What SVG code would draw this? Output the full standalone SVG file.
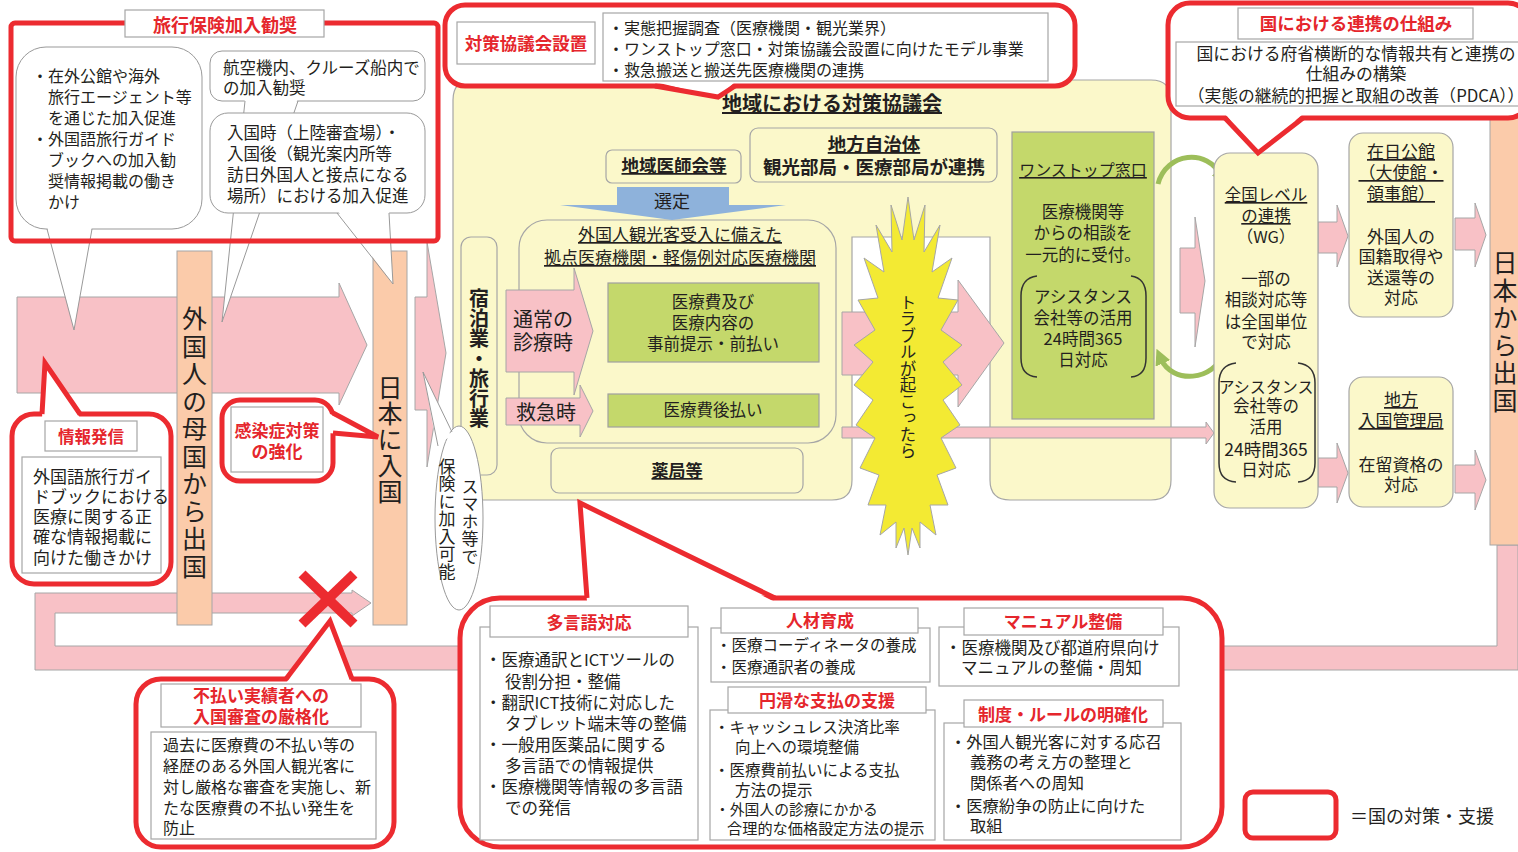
<svg xmlns="http://www.w3.org/2000/svg" width="1518" height="852" viewBox="0 0 1518 852">
<defs>
<style>
text{font-family:"Noto Sans CJK JP","Noto Sans",sans-serif;fill:#231F20;}
.rt{fill:#E5262C;font-weight:bold;}
.b{font-weight:bold;}
.u{text-decoration:underline;}
.c{text-anchor:middle;}
.v{writing-mode:vertical-rl;}
.pk{fill:#F8C1C6;stroke:#A6A6A6;stroke-width:1;}
.or{fill:#FBCBAA;stroke:#A6A6A6;stroke-width:1;}
.yl{fill:#FBF8CA;stroke:#A6A6A6;stroke-width:1.2;}
.gr{fill:#C4D86B;stroke:#A0A0A0;stroke-width:1.2;}
.rd{fill:#fff;stroke:#EC2B30;stroke-width:5;}
.rn{fill:none;stroke:#EC2B30;stroke-width:5;}
.rl{fill:none;stroke:#EC2B30;stroke-width:5;stroke-linejoin:miter;}
.wb{fill:#fff;stroke:#A6A6A6;stroke-width:1.2;}
.bu{fill:#fff;stroke:#999;stroke-width:1;}
.gl{fill:none;stroke:#999;stroke-width:1;}
.bk{fill:none;stroke:#333;stroke-width:1.5;}
.ga{fill:none;stroke:#9DBE5A;stroke-width:5;}
.f16{font-size:16px;}
.f17{font-size:17px;}
</style>
<marker id="gah" viewBox="0 0 10 10" refX="3" refY="5" markerWidth="3.2" markerHeight="3.2" orient="auto" markerUnits="strokeWidth">
<path d="M0,0 L10,5 L0,10 Z" fill="#9DBE5A"/>
</marker>
</defs>
<rect width="1518" height="852" fill="#fff"/>

<g id="connectors">
<path class="pk" d="M1497,545 H1518 V670 H35 V593 H352 V590 L371,603 L352,616 V613 H55 V646 H1497 Z"/>
<path class="pk" d="M17,297 H339 V283 L367,345 L339,405 V393 H17 Z"/>
<path class="pk" d="M415,297 H427 V242 L446,353 L427,467 V410 H415 Z"/>
</g>

<g id="bar-depart-home">
<rect class="or" x="177" y="251" width="35" height="374"/>
<text class="v" x="194.5" y="306" font-size="25" letter-spacing="2.5">外国人の母国から出国</text>
</g>
<g id="bar-enter-japan">
<rect class="or" x="373" y="251" width="34" height="374"/>
<text class="v" x="390" y="375" font-size="25" letter-spacing="1">日本に入国</text>
</g>
<g id="bar-leave-japan">
<rect class="or" x="1490" y="100" width="30" height="445"/>
<text class="v" x="1505" y="250" font-size="25" letter-spacing="2.5">日本から出国</text>
</g>

<g id="regional-council">
<path class="yl" d="M473,80 H1151 Q1171,80 1171,100 V480 Q1171,500 1151,500 H1010 Q990,500 990,480 V237 H852 V480 Q852,500 832,500 H473 Q453,500 453,480 V100 Q453,80 473,80 Z"/>
<text class="b u c" x="832" y="111" font-size="20">地域における対策協議会</text>
</g>

<g id="medical-assoc">
<rect class="yl" x="606" y="150" width="135" height="33" rx="6"/>
<text class="b u c" x="674" y="172" font-size="17.5">地域医師会等</text>
</g>
<g id="local-gov">
<rect class="yl" x="750" y="128" width="247" height="54" rx="8"/>
<text class="b u c" x="874" y="151" font-size="18.5">地方自治体</text>
<text class="b c" x="874" y="174" font-size="18.5">観光部局・医療部局が連携</text>
</g>

<g id="lodging">
<rect class="yl" x="461" y="237" width="36" height="238" rx="10"/>
<text class="v b" x="479" y="288" font-size="20">宿泊業・旅行業</text>
</g>

<g id="hospitals">
<rect class="yl" x="519" y="220" width="317" height="223" rx="28"/>
<text class="u c" x="680" y="241" font-size="17">外国人観光客受入に備えた</text>
<text class="u c" x="680" y="264" font-size="17">拠点医療機関・軽傷例対応医療機関</text>
<rect class="gr" x="608" y="283" width="211" height="79"/>
<text class="c" x="713" y="308" font-size="16.5">医療費及び</text>
<text class="c" x="713" y="329" font-size="16.5">医療内容の</text>
<text class="c" x="713" y="350" font-size="16.5">事前提示・前払い</text>
<rect class="gr" x="608" y="394" width="211" height="33"/>
<text class="c" x="713" y="416" font-size="16.5">医療費後払い</text>
<path class="pk" d="M506,290 H574 V268 L593,331 L574,395 V372 H506 Z"/>
<text x="513" y="327" font-size="20">通常の</text>
<text x="513" y="350" font-size="20">診療時</text>
<path class="pk" d="M506,398 H580 V385 L593,411 L580,437 V425 H506 Z"/>
<text x="516" y="420" font-size="20">救急時</text>
</g>

<g id="select-arrow">
<path d="M617,187 H729 V205 H786 L672,220 L560,205 H617 Z" fill="#8EB2DB"/>
<text class="c" x="672" y="208" font-size="18">選定</text>
</g>

<g id="pharmacy">
<rect class="yl" x="551" y="448" width="252" height="45" rx="8"/>
<text class="b u c" x="677" y="477" font-size="17">薬局等</text>
</g>

<g id="one-stop">
<rect class="gr" x="1012" y="132" width="142" height="287"/>
<text class="u c" x="1083" y="176" font-size="16">ワンストップ窓口</text>
<text class="c" x="1083" y="218" font-size="16.5">医療機関等</text>
<text class="c" x="1083" y="239" font-size="16.5">からの相談を</text>
<text class="c" x="1083" y="261" font-size="16.5">一元的に受付。</text>
<path class="bk" d="M1037,276 Q1021,278 1021,296 V358 Q1021,376 1037,377"/>
<path class="bk" d="M1131,276 Q1146,278 1146,296 V358 Q1146,376 1131,377"/>
<text class="c" x="1083" y="303" font-size="16.5">アシスタンス</text>
<text class="c" x="1083" y="324" font-size="16.5">会社等の活用</text>
<text class="c" x="1083" y="345" font-size="16.5">24時間365</text>
<text class="c" x="1083" y="366" font-size="16.5">日対応</text>
</g>

<g id="trouble-connectors">
<path class="pk" d="M842,312 H958 V280 L1004,343 L958,407 V375 H842 Z"/>
<path class="pk" d="M842,427 H1206 V422 L1214,433 L1206,444 V438 H842 Z"/>
<path class="pk" d="M1180,248 H1195 V217 L1205,281 L1195,347 V313 H1180 Z"/>
<path class="pk" d="M1318,222 H1337 V205 L1348,236 L1337,267 V253 H1318 Z"/>
<path class="pk" d="M1318,458 H1337 V443 L1348,473 L1337,503 V487 H1318 Z"/>
<path class="pk" d="M1455,218 H1475 V203 L1486,235 L1475,267 V250 H1455 Z"/>
<path class="pk" d="M1455,465 H1475 V450 L1486,480 L1475,510 V493 H1455 Z"/>
<path class="ga" d="M1158,184 C1166,152 1208,148 1221,176" marker-end="url(#gah)"/>
<path class="ga" d="M1224,352 C1214,382 1172,384 1161,359" marker-end="url(#gah)"/>
</g>

<g id="trouble">
<polygon points="908,197 914,240 925,205 924,252 940,225 932,272 952,258 938,298 958,300 941,330 962,345 943,362 962,385 943,400 960,425 941,438 956,468 937,475 948,505 930,505 936,535 920,522 920,548 912,528 908,555 904,528 896,548 896,522 880,535 886,505 868,505 879,475 860,468 875,438 856,425 873,400 854,385 873,362 854,345 875,330 858,300 878,298 864,258 884,272 876,225 892,252 891,205 902,240" fill="#F3EA33" stroke="#A6A6A6" stroke-width="1"/>
<text class="v" x="908" y="294" font-size="16.5">トラブルが起こったら</text>
</g>

<g id="national-level">
<rect class="yl" x="1214" y="153" width="104" height="355" rx="16"/>
<text class="u c" x="1266" y="201" font-size="16.5">全国レベル</text>
<text class="u c" x="1266" y="222" font-size="16.5">の連携</text>
<text class="c" x="1266" y="243" font-size="16.5">（WG）</text>
<text class="c" x="1266" y="285" font-size="16.5">一部の</text>
<text class="c" x="1266" y="306" font-size="16.5">相談対応等</text>
<text class="c" x="1266" y="328" font-size="16.5">は全国単位</text>
<text class="c" x="1266" y="348" font-size="16.5">で対応</text>
<path class="bk" d="M1236,363 Q1219,365 1219,383 V463 Q1219,481 1236,482"/>
<path class="bk" d="M1298,363 Q1315,365 1315,383 V463 Q1315,481 1298,482"/>
<text class="c" x="1266" y="393" font-size="16">アシスタンス</text>
<text class="c" x="1266" y="412" font-size="16.5">会社等の</text>
<text class="c" x="1266" y="433" font-size="16.5">活用</text>
<text class="c" x="1266" y="456" font-size="17.5">24時間365</text>
<text class="c" x="1266" y="476" font-size="16.5">日対応</text>
</g>

<g id="embassy">
<rect class="yl" x="1349" y="133" width="104" height="184" rx="14"/>
<text class="u c" x="1401" y="158" font-size="17">在日公館</text>
<text class="u c" x="1401" y="179" font-size="17">（大使館・</text>
<text class="u c" x="1401" y="200" font-size="17">領事館）</text>
<text class="c" x="1401" y="243" font-size="17">外国人の</text>
<text class="c" x="1401" y="263" font-size="17">国籍取得や</text>
<text class="c" x="1401" y="284" font-size="17">送還等の</text>
<text class="c" x="1401" y="304" font-size="17">対応</text>
</g>

<g id="immigration">
<rect class="yl" x="1349" y="377" width="104" height="130" rx="14"/>
<text class="u c" x="1401" y="406" font-size="17">地方</text>
<text class="u c" x="1401" y="427" font-size="17">入国管理局</text>
<text class="c" x="1401" y="471" font-size="17">在留資格の</text>
<text class="c" x="1401" y="491" font-size="17">対応</text>
</g>

<g id="smartphone-bubble">
<polygon points="423,372 452,432 437,446" fill="#fff"/>
<ellipse class="bu" cx="459" cy="518" rx="24" ry="92"/>
<polygon points="425,378 451,436 439,444" fill="#fff"/>
<polyline class="gl" points="452,432 423,372 438,446"/>
<text class="v" x="470" y="478" font-size="17" letter-spacing="0.5">スマホ等で</text>
<text class="v" x="447" y="458" font-size="17" letter-spacing="0.5">保険に加入可能</text>
</g>

<g id="insurance">
<rect class="bu" x="16" y="47" width="186" height="182" rx="30"/>
<polygon points="47,226 74,330 92,226" fill="#fff"/>
<polyline class="gl" points="47,229 74,330 92,229"/>
<text class="f16" x="32" y="82">・在外公館や海外</text>
<text class="f16" x="48" y="103">旅行エージェント等</text>
<text class="f16" x="48" y="124">を通じた加入促進</text>
<text class="f16" x="32" y="145">・外国語旅行ガイド</text>
<text class="f16" x="48" y="166">ブックへの加入勧</text>
<text class="f16" x="48" y="187">奨情報掲載の働き</text>
<text class="f16" x="48" y="208">かけ</text>
<rect class="bu" x="210" y="51" width="215" height="50" rx="12"/>
<polygon points="245,98 222,322 298,98" fill="#fff"/>
<polyline class="gl" points="245,101 222,322 298,101"/>
<text x="223" y="74" font-size="16.5">航空機内、クルーズ船内で</text>
<text x="223" y="94" font-size="16.5">の加入勧奨</text>
<rect class="bu" x="210" y="113" width="215" height="100" rx="18"/>
<polygon points="337,210 393,284 389,210" fill="#fff"/>
<polyline class="gl" points="337,213 393,284 389,213"/>
<text x="227" y="139" font-size="16.5">入国時（上陸審査場）・</text>
<text x="227" y="160" font-size="16.5">入国後（観光案内所等</text>
<text x="227" y="181" font-size="16.5">訪日外国人と接点になる</text>
<text x="227" y="202" font-size="16.5">場所）における加入促進</text>
<rect class="rn" x="11" y="23" width="427" height="218" rx="4"/>
<rect class="wb" x="125" y="10" width="199" height="27"/>
<text class="rt c" x="225" y="32" font-size="18">旅行保険加入勧奨</text>
</g>

<g id="info">
<rect class="rd" x="12" y="414" width="159" height="170" rx="22"/>
<polygon points="42,418 45,363 80,418" fill="#fff"/>
<polyline class="rl" points="42,414 45,363 80,414"/>
<rect class="wb" x="45" y="421" width="92" height="30"/>
<text class="rt c" x="91" y="443" font-size="16.5">情報発信</text>
<rect class="wb" x="22" y="457" width="139" height="116"/>
<text class="f17" x="33" y="483">外国語旅行ガイ</text>
<text class="f17" x="33" y="503">ドブックにおける</text>
<text class="f17" x="33" y="523">医療に関する正</text>
<text class="f17" x="33" y="543">確な情報掲載に</text>
<text class="f17" x="33" y="564">向けた働きかけ</text>
</g>

<g id="infection">
<rect class="rd" x="222" y="400" width="111" height="81" rx="18"/>
<polygon points="328,413 378,437 328,433" fill="#fff"/>
<polyline class="rl" points="333,413 378,437 333,433"/>
<rect class="wb" x="231" y="407" width="92" height="65"/>
<text class="rt c" x="277" y="437" font-size="17">感染症対策</text>
<text class="rt c" x="277" y="458" font-size="17">の強化</text>
</g>

<g id="cross">
<line x1="302" y1="574" x2="354" y2="624" stroke="#EC2B30" stroke-width="10"/>
<line x1="354" y1="574" x2="302" y2="624" stroke="#EC2B30" stroke-width="10"/>
</g>

<g id="nonpayment">
<rect class="rd" x="136" y="679" width="258" height="168" rx="25"/>
<polygon points="286,683 330,621 352,683" fill="#fff"/>
<polyline class="rl" points="286,679 330,621 352,679"/>
<rect class="wb" x="161" y="684" width="200" height="43"/>
<text class="rt c" x="261" y="702" font-size="17">不払い実績者への</text>
<text class="rt c" x="261" y="723" font-size="17">入国審査の厳格化</text>
<rect class="wb" x="151" y="732" width="225" height="107"/>
<text class="f16" x="163" y="751">過去に医療費の不払い等の</text>
<text class="f16" x="163" y="772">経歴のある外国人観光客に</text>
<text class="f16" x="163" y="793">対し厳格な審査を実施し、新</text>
<text class="f16" x="163" y="814">たな医療費の不払い発生を</text>
<text class="f16" x="163" y="834">防止</text>
</g>

<g id="council-setup">
<rect class="rd" x="445" y="5" width="630" height="81" rx="20"/>
<polygon points="655,82 718,97 735,82" fill="#fff"/>
<polyline class="rl" points="655,86 718,97 735,86"/>
<rect class="wb" x="457" y="22" width="138" height="42"/>
<text class="rt c" x="526" y="50" font-size="17.5">対策協議会設置</text>
<rect class="wb" x="603" y="13" width="445" height="68"/>
<text class="f16" x="608" y="34">・実態把握調査（医療機関・観光業界）</text>
<text class="f16" x="608" y="55">・ワンストップ窓口・対策協議会設置に向けたモデル事業</text>
<text class="f16" x="608" y="76">・救急搬送と搬送先医療機関の連携</text>
</g>

<g id="national-mechanism">
<rect class="rd" x="1168" y="3" width="362" height="115" rx="22"/>
<polygon points="1225,114 1258,153 1303,114" fill="#fff"/>
<polyline class="rl" points="1225,118 1258,153 1303,118"/>
<rect class="wb" x="1238" y="8" width="235" height="31"/>
<text class="rt c" x="1356" y="30" font-size="17.5">国における連携の仕組み</text>
<rect class="wb" x="1176" y="42" width="350" height="64"/>
<text class="c" x="1356" y="60" font-size="16.8">国における府省横断的な情報共有と連携の</text>
<text class="c" x="1356" y="80" font-size="16.8">仕組みの構築</text>
<text class="c" x="1356" y="102" font-size="16.8">（実態の継続的把握と取組の改善（PDCA））</text>
</g>

<g id="national-measures">
<rect class="rd" x="460" y="598" width="762" height="249" rx="40"/>
<polygon points="587,602 580,503 775,602" fill="#fff"/>
<polyline class="rl" points="587,598 580,503 775,598"/>
</g>

<g id="multilingual">
<rect class="wb" x="480" y="627" width="218" height="213"/>
<rect class="wb" x="490" y="606" width="198" height="31"/>
<text class="rt c" x="589" y="629" font-size="17">多言語対応</text>
<text x="485" y="666" font-size="16.5">・医療通訳とICTツールの</text>
<text x="505" y="688" font-size="16.5">役割分担・整備</text>
<text x="485" y="709" font-size="16.5">・翻訳ICT技術に対応した</text>
<text x="505" y="730" font-size="16.5">タブレット端末等の整備</text>
<text x="485" y="751" font-size="16.5">・一般用医薬品に関する</text>
<text x="505" y="772" font-size="16.5">多言語での情報提供</text>
<text x="485" y="793" font-size="16.5">・医療機関等情報の多言語</text>
<text x="505" y="814" font-size="16.5">での発信</text>
</g>

<g id="training">
<rect class="wb" x="711" y="628" width="219" height="54"/>
<rect class="wb" x="721" y="608" width="197" height="25"/>
<text class="rt c" x="820" y="627" font-size="17">人材育成</text>
<text x="716" y="651" font-size="15.5">・医療コーディネータの養成</text>
<text x="716" y="673" font-size="15.5">・医療通訳者の養成</text>
</g>

<g id="manual">
<rect class="wb" x="939" y="627" width="240" height="59"/>
<rect class="wb" x="964" y="608" width="199" height="27"/>
<text class="rt c" x="1063" y="628" font-size="17">マニュアル整備</text>
<text x="945" y="654" font-size="16.5">・医療機関及び都道府県向け</text>
<text x="961" y="674" font-size="16.5">マニュアルの整備・周知</text>
</g>

<g id="payment">
<rect class="wb" x="710" y="710" width="225" height="130"/>
<rect class="wb" x="728" y="687" width="198" height="26"/>
<text class="rt c" x="827" y="707" font-size="17">円滑な支払の支援</text>
<text x="714" y="733" font-size="15.5">・キャッシュレス決済比率</text>
<text x="735" y="753" font-size="15.5">向上への環境整備</text>
<text x="714" y="776" font-size="15.5">・医療費前払いによる支払</text>
<text x="735" y="796" font-size="15.5">方法の提示</text>
<text x="715" y="815" font-size="14.8">・外国人の診療にかかる</text>
<text x="727" y="834" font-size="15.2">合理的な価格設定方法の提示</text>
</g>

<g id="rules">
<rect class="wb" x="944" y="723" width="237" height="117"/>
<rect class="wb" x="964" y="700" width="199" height="27"/>
<text class="rt c" x="1063" y="721" font-size="17">制度・ルールの明確化</text>
<text x="950" y="748" font-size="16.3">・外国人観光客に対する応召</text>
<text x="970" y="768" font-size="16.3">義務の考え方の整理と</text>
<text x="970" y="789" font-size="16.3">関係者への周知</text>
<text x="950" y="812" font-size="16.3">・医療紛争の防止に向けた</text>
<text x="970" y="832" font-size="16.3">取組</text>
</g>

<g id="legend">
<rect class="rn" x="1245" y="792" width="91" height="46" rx="8"/>
<text x="1350" y="823" font-size="18">＝国の対策・支援</text>
</g>
</svg>
